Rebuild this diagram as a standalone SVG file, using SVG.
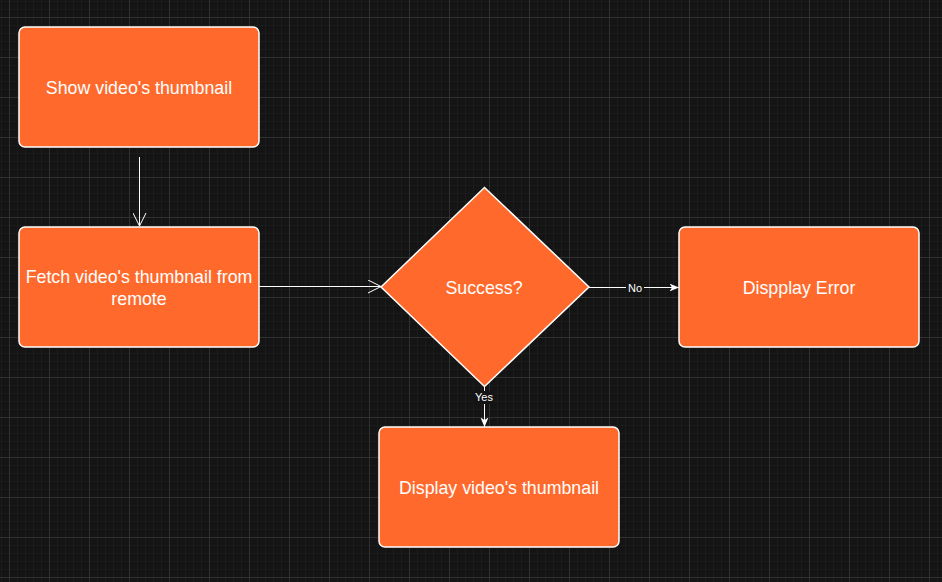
<svg xmlns="http://www.w3.org/2000/svg" width="942" height="582" viewBox="0 0 942 582">
<defs>
<pattern id="grid" patternUnits="userSpaceOnUse" x="9" y="17" width="40" height="40">
<rect width="40" height="40" fill="#141414"/>
<g fill="#1b1b1b">
<rect x="8" y="0" width="1" height="40"/><rect x="16" y="0" width="1" height="40"/><rect x="24" y="0" width="1" height="40"/><rect x="32" y="0" width="1" height="40"/>
<rect x="0" y="8" width="40" height="1"/><rect x="0" y="16" width="40" height="1"/><rect x="0" y="24" width="40" height="1"/><rect x="0" y="32" width="40" height="1"/>
</g>
<g fill="#303030">
<rect x="0" y="0" width="1" height="40"/><rect x="0" y="0" width="40" height="1"/>
</g>
</pattern>
<marker id="open" viewBox="0 0 14 14" refX="13" refY="7" markerWidth="14" markerHeight="14" markerUnits="userSpaceOnUse" orient="auto">
<path d="M0,0.5 L13,7 L0,13.5" fill="none" stroke="#ffffff" stroke-width="1"/>
</marker>
<marker id="filled" viewBox="0 0 10 10" refX="9.5" refY="5" markerWidth="10" markerHeight="10" markerUnits="userSpaceOnUse" orient="auto">
<path d="M0,1 L9.5,5 L0,9 L2.5,5 Z" fill="#ffffff"/>
</marker>
</defs>
<style>
.box{fill:#ff6a2c;stroke:#ffffff;stroke-width:1.5}
.lbl{font-family:"Liberation Sans",Arial,sans-serif;font-size:17.8px;fill:#ffffff;text-anchor:middle;dominant-baseline:central}
.elbl{font-family:"Liberation Sans",Arial,sans-serif;font-size:11px;fill:#ffffff;text-anchor:middle;dominant-baseline:central}
.edge{stroke:#ffffff;stroke-width:1;fill:none}
</style>
<rect width="942" height="582" fill="url(#grid)"/>
<g id="connectors">
<line class="edge" x1="139.5" y1="157" x2="139.5" y2="226" marker-end="url(#open)"/>
<line class="edge" x1="259" y1="286.5" x2="381" y2="286.5" marker-end="url(#open)"/>
<line class="edge" x1="589" y1="287.5" x2="679" y2="287.5" marker-end="url(#filled)"/>
<rect x="626" y="281" width="18" height="13" fill="#141414"/>
<text class="elbl" x="635" y="288">No</text>
<line class="edge" x1="484.5" y1="387" x2="484.5" y2="427" marker-end="url(#filled)"/>
<rect x="473" y="391" width="22" height="13" fill="#141414"/>
<text class="elbl" x="484" y="397">Yes</text>
</g>
<g id="node-show">
<rect class="box" x="19" y="27" width="240" height="120" rx="6"/>
<text class="lbl" x="139" y="88">Show video's thumbnail</text>
</g>
<g id="node-fetch">
<rect class="box" x="19" y="227" width="240" height="120" rx="6"/>
<text class="lbl" x="139" y="277">Fetch video's thumbnail from</text>
<text class="lbl" x="139" y="299">remote</text>
</g>
<g id="node-success">
<polygon class="box" points="484.5,187.5 589,287 484.5,386.5 381,287" stroke-width="1"/>
<text class="lbl" x="484" y="288">Success?</text>
</g>
<g id="node-error">
<rect class="box" x="679" y="227" width="240" height="120" rx="6"/>
<text class="lbl" x="799" y="288">Dispplay Error</text>
</g>
<g id="node-display">
<rect class="box" x="379" y="427" width="240" height="120" rx="6"/>
<text class="lbl" x="499" y="488">Display video's thumbnail</text>
</g>
</svg>
